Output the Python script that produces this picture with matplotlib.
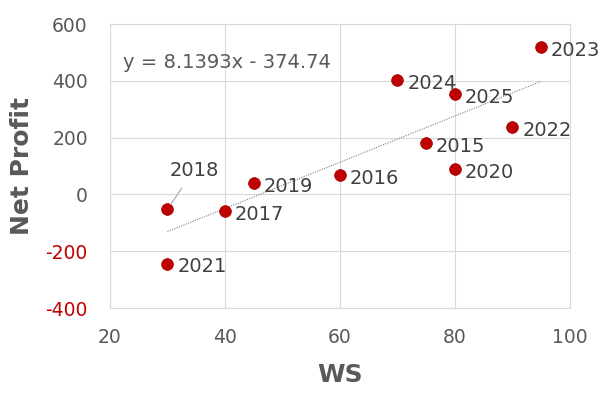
import matplotlib.pyplot as plt
import numpy as np

years = ['2015', '2016', '2017', '2018', '2019', '2020', '2021', '2022', '2023', '2024', '2025']
ws = [75, 60, 40, 30, 45, 80, 30, 90, 95, 70, 80]
net_profit = [180, 68, -58, -52, 40, 88, -243, 236, 520, 404, 352]

# trendline shown on the chart
slope = 8.1393
intercept = -374.74

x_ticks = [20, 40, 60, 80, 100]
y_ticks = [-400, -200, 0, 200, 400, 600]

gray = '#595959'
red = '#C00000'

plt.rcParams['axes.unicode_minus'] = False

fig = plt.figure(figsize=(6, 3.94), dpi=100)
ax = fig.add_axes([0.1833, 0.218, 0.7667, 0.721])

# trendline
tx = np.array([min(ws), max(ws)])
ax.plot(tx, slope * tx + intercept, color='#7F7F7F', linestyle=(0, (1, 1.2)), linewidth=0.8, zorder=2)

ax.scatter(ws, net_profit, s=72, color=red, edgecolor='#A00000', linewidth=0.5, zorder=3)

for yr, x, y in zip(years, ws, net_profit):
    if yr == '2018':
        ax.annotate(yr, (x, y), xytext=(19, 28), textcoords='offset points',
                    ha='center', va='center', fontsize=14, color='#404040',
                    arrowprops=dict(arrowstyle='-', color='#A6A6A6', lw=0.8,
                                    shrinkA=5, shrinkB=4))
    else:
        ax.annotate(yr, (x, y), xytext=(7, -2.5), textcoords='offset points',
                    ha='left', va='center', fontsize=14, color='#404040')

ax.text(22.3, 466, 'y = 8.1393x - 374.74', fontsize=14, color=gray, va='center')

ax.set_xlim(20, 100)
ax.set_ylim(-400, 600)
ax.set_xticks(x_ticks)
ax.set_yticks(y_ticks)
ax.tick_params(length=0, labelsize=13.5, colors=gray)
ax.tick_params(axis='y', pad=16)
ax.tick_params(axis='x', pad=14)
for lab, v in zip(ax.get_yticklabels(), y_ticks):
    if v < 0:
        lab.set_color(red)

ax.grid(True, color='#D9D9D9', linewidth=0.8)
ax.set_axisbelow(True)
for sp in ax.spines.values():
    sp.set_color('#D9D9D9')
    sp.set_linewidth(0.8)

ax.set_xlabel('WS', fontsize=18, fontweight='bold', color=gray, labelpad=12)
ax.set_ylabel('Net Profit', fontsize=18, fontweight='bold', color=gray, labelpad=8)

fig.savefig('out.png', dpi=100)
